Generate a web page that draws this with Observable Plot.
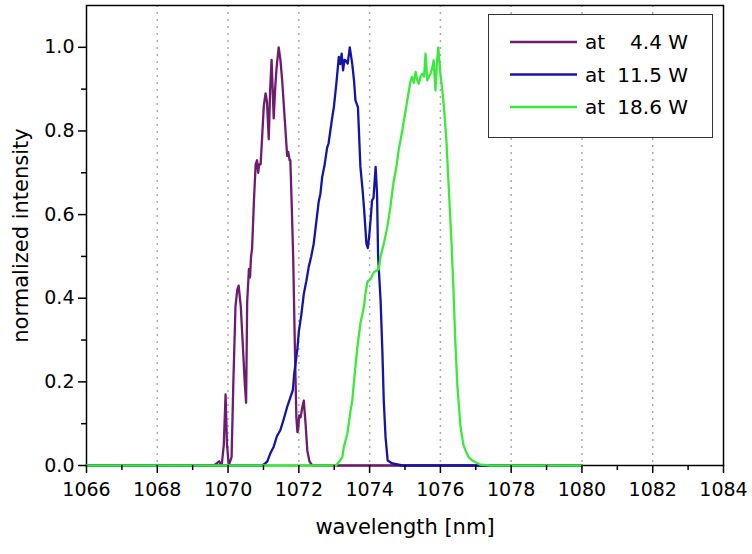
<!DOCTYPE html>
<html>
<head>
<meta charset="utf-8">
<script src="https://cdn.jsdelivr.net/npm/d3@7"></script>
<script src="https://cdn.jsdelivr.net/npm/@observablehq/plot@0.6"></script>
<style>
  body { margin: 0; background: #fff; }
  #wrap { position: relative; width: 752px; height: 554px; font-family: "DejaVu Sans", sans-serif; }
  #legend { position: absolute; left: 488px; top: 14px; }
  #wrap [aria-label="x-axis label"] text, #wrap [aria-label="y-axis label"] text { font-size: 21px; }
</style>
</head>
<body>
<div id="wrap"><div id="legend"></div></div>
<script>
// ---- data ----
const seriesNames = ["at   4.4 W", "at 11.5 W", "at 18.6 W"];
const seriesColors = ["#6d1c70", "#1414a8", "#3aea3a"];

const wl44 = [1066, 1069.6, 1069.75, 1069.82, 1069.88, 1069.93, 1069.97, 1070.02, 1070.10, 1070.15, 1070.21, 1070.26, 1070.30, 1070.36, 1070.41, 1070.47, 1070.51, 1070.54, 1070.59, 1070.62, 1070.65, 1070.68, 1070.73, 1070.78, 1070.82, 1070.85, 1070.88, 1070.92, 1070.96, 1071.01, 1071.06, 1071.10, 1071.15, 1071.19, 1071.23, 1071.26, 1071.29, 1071.33, 1071.37, 1071.43, 1071.48, 1071.53, 1071.60, 1071.67, 1071.70, 1071.74, 1071.76, 1071.80, 1071.84, 1071.89, 1071.93, 1071.96, 1071.98, 1072.01, 1072.05, 1072.10, 1072.14, 1072.19, 1072.24, 1072.30, 1072.38, 1080];
const int44 = [0, 0, 0.01, 0.0, 0.05, 0.17, 0.05, 0.0, 0.02, 0.2, 0.38, 0.42, 0.43, 0.38, 0.3, 0.2, 0.15, 0.39, 0.47, 0.45, 0.5, 0.52, 0.63, 0.72, 0.73, 0.70, 0.72, 0.72, 0.78, 0.86, 0.89, 0.87, 0.78, 0.9, 0.97, 0.9, 0.83, 0.9, 0.95, 1.0, 0.97, 0.92, 0.83, 0.74, 0.75, 0.73, 0.73, 0.62, 0.50, 0.275, 0.115, 0.08, 0.085, 0.12, 0.115, 0.14, 0.155, 0.10, 0.035, 0.01, 0, 0];

const wl115 = [1066, 1070.96, 1071.05, 1071.11, 1071.20, 1071.29, 1071.38, 1071.48, 1071.57, 1071.67, 1071.75, 1071.83, 1071.87, 1071.91, 1071.96, 1072.00, 1072.07, 1072.14, 1072.21, 1072.28, 1072.35, 1072.42, 1072.49, 1072.56, 1072.61, 1072.66, 1072.73, 1072.80, 1072.84, 1072.89, 1072.94, 1072.99, 1073.06, 1073.13, 1073.17, 1073.21, 1073.25, 1073.29, 1073.32, 1073.38, 1073.44, 1073.51, 1073.56, 1073.60, 1073.67, 1073.74, 1073.80, 1073.84, 1073.91, 1073.95, 1073.99, 1074.03, 1074.07, 1074.11, 1074.17, 1074.21, 1074.24, 1074.31, 1074.36, 1074.40, 1074.45, 1074.51, 1074.64, 1074.93, 1080];
const int115 = [0, 0, 0.005, 0.01, 0.03, 0.045, 0.07, 0.085, 0.11, 0.14, 0.16, 0.18, 0.22, 0.245, 0.28, 0.32, 0.36, 0.41, 0.44, 0.475, 0.50, 0.53, 0.58, 0.63, 0.65, 0.69, 0.72, 0.76, 0.77, 0.80, 0.83, 0.857, 0.913, 0.977, 0.96, 0.985, 0.945, 0.97, 0.969, 0.961, 1.0, 0.96, 0.92, 0.873, 0.857, 0.714, 0.66, 0.618, 0.53, 0.52, 0.55, 0.59, 0.634, 0.64, 0.714, 0.65, 0.50, 0.395, 0.275, 0.155, 0.068, 0.012, 0.005, 0, 0];

const wl186 = [1066, 1073.05, 1073.15, 1073.23, 1073.27, 1073.37, 1073.46, 1073.51, 1073.58, 1073.65, 1073.74, 1073.84, 1073.88, 1073.94, 1074.02, 1074.12, 1074.21, 1074.26, 1074.31, 1074.40, 1074.50, 1074.59, 1074.68, 1074.75, 1074.82, 1074.90, 1074.97, 1075.04, 1075.11, 1075.16, 1075.20, 1075.25, 1075.30, 1075.35, 1075.39, 1075.44, 1075.49, 1075.54, 1075.58, 1075.63, 1075.68, 1075.72, 1075.77, 1075.81, 1075.86, 1075.90, 1075.94, 1076.00, 1076.05, 1076.10, 1076.17, 1076.24, 1076.31, 1076.37, 1076.42, 1076.48, 1076.57, 1076.65, 1076.71, 1076.80, 1076.90, 1077.13, 1077.42, 1080];
const int186 = [0, 0, 0.01, 0.02, 0.044, 0.076, 0.13, 0.155, 0.22, 0.28, 0.34, 0.38, 0.41, 0.44, 0.445, 0.462, 0.467, 0.47, 0.50, 0.53, 0.57, 0.62, 0.68, 0.71, 0.754, 0.79, 0.825, 0.86, 0.897, 0.92, 0.929, 0.915, 0.941, 0.92, 0.913, 0.93, 0.937, 0.93, 0.985, 0.921, 0.93, 0.937, 0.95, 0.969, 0.897, 0.96, 1.0, 0.937, 0.9, 0.857, 0.777, 0.658, 0.54, 0.42, 0.30, 0.19, 0.092, 0.05, 0.036, 0.02, 0.012, 0.002, 0, 0];

const xMajorTicks = [1066, 1068, 1070, 1072, 1074, 1076, 1078, 1080, 1082, 1084];
const xMinorTicks = [1067, 1069, 1071, 1073, 1075, 1077, 1079, 1081, 1083];
const xGridTicks = [1068, 1070, 1072, 1074, 1076, 1078, 1080, 1082];
const yMajorTicks = [0, 0.2, 0.4, 0.6, 0.8, 1.0];
const yMinorTicks = [0.1, 0.3, 0.5, 0.7, 0.9];

// ---- build table ----
const seriesData = [[wl44, int44], [wl115, int115], [wl186, int186]];
const rows = [];
seriesData.forEach(([wl, iv], k) => wl.forEach((w, i) => rows.push({wl: w, v: iv[i], series: seriesNames[k]})));

const chart = Plot.plot({
  width: 752,
  height: 554,
  marginLeft: 86,
  marginRight: 29,
  marginTop: 5,
  marginBottom: 89,
  style: {fontFamily: "'DejaVu Sans', sans-serif", fontSize: "19px", color: "#000", background: "#fff"},
  x: {domain: [1066, 1084]},
  y: {domain: [0, 1.1]},
  color: {domain: seriesNames, range: seriesColors},
  marks: [
    Plot.gridX(xGridTicks, {stroke: "#a8a8a8", strokeOpacity: 1, strokeWidth: 1.5, strokeDasharray: "2,5"}),
    Plot.frame({stroke: "#000", strokeWidth: 1.5}),
    Plot.line(rows, {x: "wl", y: "v", z: "series", stroke: "series", strokeWidth: 2.3, curve: "linear"}),
    Plot.axisX({ticks: xMajorTicks, tickSize: 8, tickPadding: 9, stroke: "#000", strokeWidth: 1.5, tickFormat: "d",
      label: "wavelength [nm]", labelAnchor: "center", labelOffset: 68, labelArrow: "none"}),
    Plot.axisX({ticks: xMinorTicks, tickSize: 5, stroke: "#000", strokeWidth: 1.5, text: null, label: null}),
    Plot.axisY({ticks: yMajorTicks, tickSize: 8, tickPadding: 4, stroke: "#000", strokeWidth: 1.5, tickFormat: d3.format(".1f"),
      label: "normalized intensity", labelAnchor: "center", labelOffset: 73, labelArrow: "none"}),
    Plot.axisY({ticks: yMinorTicks, tickSize: 5, stroke: "#000", strokeWidth: 1.5, text: null, label: null})
  ]
});
document.getElementById("wrap").prepend(chart);

// ---- legend ----
const lg = d3.select("#legend").append("svg").attr("width", 225).attr("height", 124)
  .style("font-family", "'DejaVu Sans', sans-serif").style("font-size", "20px");
lg.append("rect").attr("x", 0.5).attr("y", 0.5).attr("width", 224).attr("height", 123)
  .attr("fill", "#fff").attr("stroke", "#333").attr("stroke-width", 1);
seriesNames.forEach((name, i) => {
  const cy = 28 + i * 32.5;
  lg.append("line").attr("x1", 22).attr("x2", 89).attr("y1", cy).attr("y2", cy)
    .attr("stroke", seriesColors[i]).attr("stroke-width", 2.3);
  const parts = name.split(/\s+/);
  lg.append("text").attr("x", 97).attr("y", cy).attr("dy", "0.35em").text(parts[0]);
  lg.append("text").attr("x", 200).attr("y", cy).attr("dy", "0.35em").attr("text-anchor", "end").text(parts.slice(1).join(" "));
});
</script>
</body>
</html>
